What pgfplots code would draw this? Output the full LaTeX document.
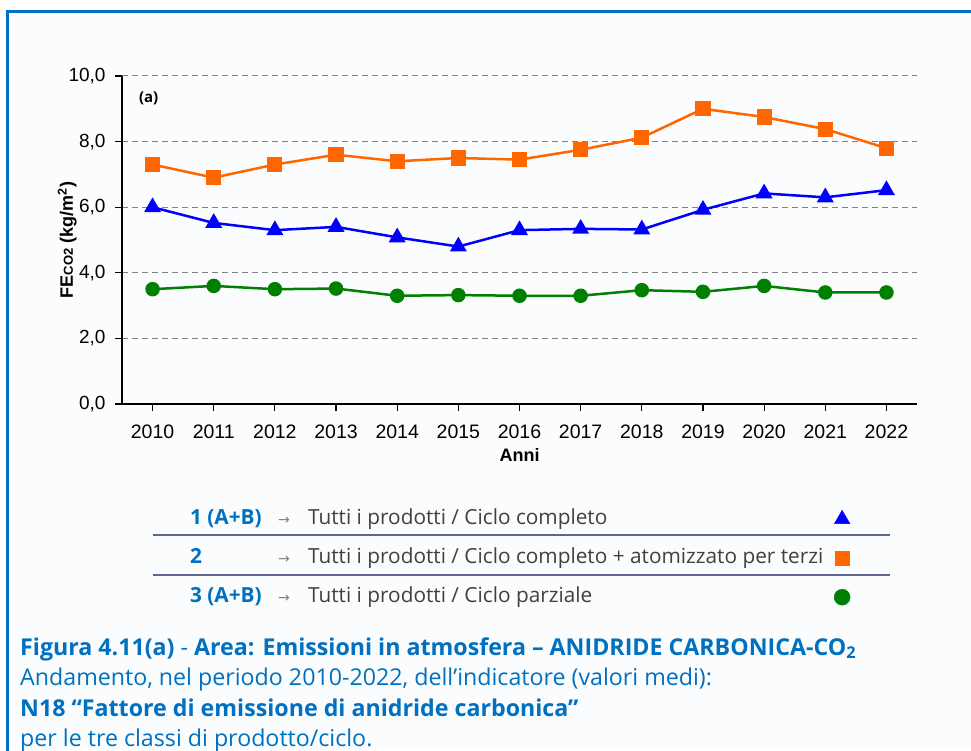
\documentclass[border=0pt]{standalone}
\usepackage{pgfplots}
\pgfplotsset{compat=1.18}
\usepackage{fontspec}
\setmainfont{Open Sans}
\newfontfamily\arial{Liberation Sans}
\newfontfamily\dejavu{DejaVu Sans}
\definecolor{capblue}{HTML}{0070C0}
\definecolor{panel}{HTML}{FBFCFE}
\definecolor{legtext}{HTML}{404040}
\definecolor{sepline}{RGB}{98,100,150}
\definecolor{cOrange}{HTML}{FF6600}
\definecolor{cBlue}{HTML}{0000FF}
\definecolor{cGreen}{HTML}{008000}

\begin{document}
\begin{tikzpicture}[x=1pt,y=1pt]
\useasboundingbox (0,0) rectangle (971,750);
\fill[white] (0,0) rectangle (971,750);
\fill[panel] (7,0) rectangle (971,738);
\draw[capblue, line width=3pt] (7,-5) -- (7,738) -- (980,738);

\begin{axis}[
  at={(122pt,346pt)}, anchor=south west,
  scale only axis, width=795pt, height=328pt,
  xmin=2009.5, xmax=2022.5, ymin=0, ymax=10,
  xtick={2010,2011,...,2022}, ytick={0,2,...,10},
  axis lines=left, axis line style={-, line width=1.8pt},
  tick align=outside, major tick length=7pt,
  tick style={black, line width=1.2pt},
  ymajorgrids, grid style={dash pattern=on 6pt off 4pt, color=black!50, line width=1pt},
  /pgf/number format/assume math mode=true,
  xticklabel style={font=\arial\fontsize{19.5}{21}\selectfont, yshift=-10pt, /pgf/number format/1000 sep={}},
  yticklabel style={font=\arial\fontsize{19}{21}\selectfont, xshift=-6pt, /pgf/number format/.cd, fixed, fixed zerofill, precision=1, use comma},
  xlabel={Anni},
  xlabel style={font=\arial\bfseries\fontsize{18}{20}\selectfont, at={(axis description cs:0.5,-0.155)}, anchor=center},
  ylabel={FE{\fontsize{13}{14}\selectfont CO2} (kg/m\textsuperscript{2})},
  ylabel style={font=\arial\bfseries\fontsize{18}{20}\selectfont, at={(axis description cs:-0.069,0.5)}, anchor=center},
  clip=false,
  legend plot pos=right,
  legend cell align=left,
  legend style={at={(axis description cs:0.0817,-0.314)}, anchor=north west, draw=none, fill=none,
    font=\fontsize{20.8}{25}\selectfont\color{legtext}, row sep=19pt,
    nodes={inner sep=0pt, text height=15pt, text depth=5pt}},
]
% 2 - ciclo completo + atomizzato per terzi
\addplot[cOrange, line width=2.5pt, mark=square*, mark size=6.3pt, mark options={solid}, forget plot] coordinates {
  (2010,7.30) (2011,6.90) (2012,7.30) (2013,7.60) (2014,7.40) (2015,7.50) (2016,7.45)
  (2017,7.75) (2018,8.12) (2019,9.00) (2020,8.75) (2021,8.38) (2022,7.80)
};
% 1 (A+B) - ciclo completo
\addplot[cBlue, line width=2.5pt, mark=triangle*, mark size=7.3pt, mark options={solid}, forget plot] coordinates {
  (2010,6.00) (2011,5.52) (2012,5.30) (2013,5.40) (2014,5.08) (2015,4.80) (2016,5.30)
  (2017,5.34) (2018,5.32) (2019,5.92) (2020,6.42) (2021,6.30) (2022,6.52)
};
% 3 (A+B) - ciclo parziale
\addplot[cGreen, line width=2.5pt, mark=*, mark size=6pt, mark options={solid}, forget plot] coordinates {
  (2010,3.50) (2011,3.60) (2012,3.50) (2013,3.52) (2014,3.30) (2015,3.32) (2016,3.30)
  (2017,3.30) (2018,3.47) (2019,3.42) (2020,3.60) (2021,3.40) (2022,3.40)
};
\node[anchor=west, font=\bfseries\fontsize{15}{16}\selectfont] at (axis description cs:0.017,0.933) {(a)};

\addlegendimage{only marks, cBlue, mark=triangle*, mark size=9pt}
\addlegendentry{\makebox[644pt][l]{\makebox[88pt][l]{\color{capblue}\bfseries 1 (A+B)}\makebox[30pt][l]{\dejavu\fontsize{14}{14}\selectfont\color{gray}→}Tutti i prodotti / Ciclo completo}}
\addlegendimage{only marks, cOrange, mark=square*, mark size=7pt}
\addlegendentry{\makebox[644pt][l]{\makebox[88pt][l]{\color{capblue}\bfseries 2}\makebox[30pt][l]{\dejavu\fontsize{14}{14}\selectfont\color{gray}→}Tutti i prodotti / Ciclo completo + atomizzato per terzi}}
\addlegendimage{only marks, cGreen, mark=*, mark size=8pt}
\addlegendentry{\makebox[644pt][l]{\makebox[88pt][l]{\color{capblue}\bfseries 3 (A+B)}\makebox[30pt][l]{\dejavu\fontsize{14}{14}\selectfont\color{gray}→}Tutti i prodotti / Ciclo parziale}}
\end{axis}

% separators of the legend table
\draw[sepline, line width=2pt] (153,215) -- (890,215);
\draw[sepline, line width=2pt] (153,175) -- (890,175);

% caption
\begin{scope}[every node/.style={anchor=base west, inner sep=0pt, text=capblue, font=\fontsize{23.2}{27}\selectfont}]
\node at (20,95) {\bfseries Figura 4.11(a)\mdseries{} - \bfseries Area: Emissioni in atmosfera – ANIDRIDE CARBONICA-CO\textsubscript{2}};
\node at (20,65) {Andamento, nel periodo 2010-2022, dell'indicatore (valori medi):};
\node at (20,34) {\bfseries N18 “Fattore di emissione di anidride carbonica”};
\node at (20,4) {per le tre classi di prodotto/ciclo.};
\end{scope}
\end{tikzpicture}
\end{document}
